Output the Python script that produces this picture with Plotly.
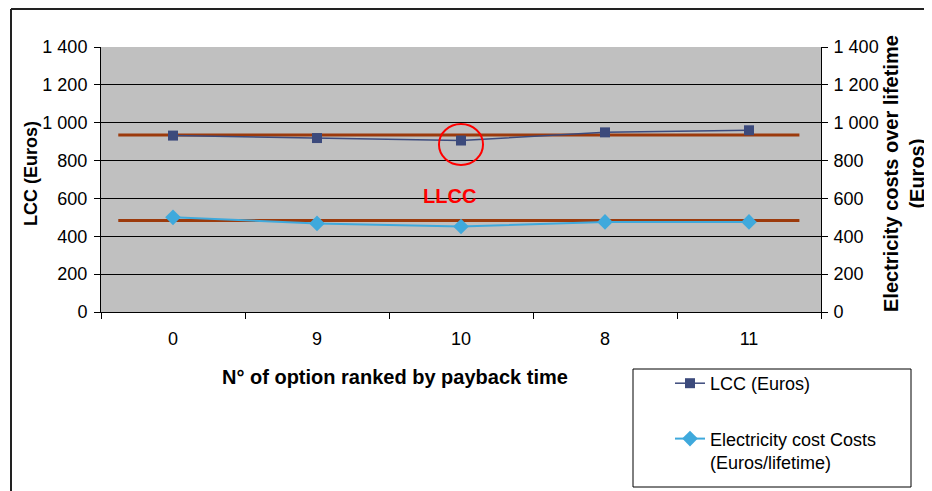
# -*- coding: utf-8 -*-

import plotly.graph_objs as go

########################## DATA ###############################################
options = ["0", "9", "10", "8", "11"]
lcc_euros = [932, 919, 906, 949, 960]
elec_costs = [500, 468, 452, 476, 476]
lcc_level = 935
elec_level = 484
level_span = [-0.38, 4.35]
y_ticks = [0, 200, 400, 600, 800, 1000, 1200, 1400]
y_ticklabels = ["0", "200", "400", "600", "800", "1 000", "1 200", "1 400"]
llcc_option = 2

FONT = "Arial, Liberation Sans, sans-serif"
ORANGE = "#9C3A0C"
NAVY = "#3C4A7C"
SKY = "#3FA9DC"

x_idx = list(range(len(options)))

# page body has an 8px margin, so the figure is laid out 8px smaller
PW, PH = 720, 265           # plot area size in px
ML, MT = 93, 39             # margins so the plot lands at (101, 47) on screen

def px_x(x):
    # screen x pixel -> paper coordinate
    return (x - 8 - ML) / PW

def px_y(y):
    # screen y pixel -> paper coordinate
    return (MT + PH - (y - 8)) / PH

########################## TRACES #############################################
fig = go.Figure()

for lvl in [lcc_level, elec_level]:
    fig.add_trace(go.Scatter(x=level_span, y=[lvl, lvl], mode="lines",
                             line=dict(color=ORANGE, width=3),
                             showlegend=False, hoverinfo="skip"))

fig.add_trace(go.Scatter(x=x_idx, y=lcc_euros, mode="lines+markers",
                         name="LCC (Euros)", legendgroup="a",
                         line=dict(color=NAVY, width=1.5),
                         marker=dict(symbol="square", size=10, color=NAVY)))

fig.add_trace(go.Scatter(x=x_idx, y=elec_costs, mode="lines+markers",
                         name="Electricity cost Costs<br>(Euros/lifetime)",
                         legendgroup="b", yaxis="y2",
                         line=dict(color=SKY, width=2),
                         marker=dict(symbol="diamond", size=12, color=SKY)))

########################## LAYOUT #############################################
axis_common = dict(range=[0, 1400], tickvals=y_ticks, ticktext=y_ticklabels,
                   ticks="outside", ticklen=6, tickcolor="black",
                   showline=True, linecolor="black", linewidth=1,
                   tickfont=dict(family=FONT, size=18, color="black"),
                   fixedrange=True)

fig.update_layout(
    width=924, height=483,
    margin=dict(l=ML, r=924 - ML - PW, t=MT, b=483 - MT - PH, autoexpand=False),
    paper_bgcolor="white",
    plot_bgcolor="#C0C0C0",
    font=dict(family=FONT, color="black"),
    xaxis=dict(range=[-0.5, 4.5], tickvals=x_idx, ticktext=options,
               ticks="", showgrid=False, zeroline=False,
               showline=True, linecolor="black", linewidth=1,
               ticklabelstandoff=10,
               tickfont=dict(family=FONT, size=18, color="black"),
               minor=dict(tickmode="array",
                          tickvals=[-0.5, 0.5, 1.5, 2.5, 3.5, 4.5],
                          ticks="outside", ticklen=6, tickcolor="black",
                          showgrid=False)),
    yaxis=dict(showgrid=True, gridcolor="black", gridwidth=1, zeroline=False,
               ticklabelstandoff=3, **axis_common),
    yaxis2=dict(overlaying="y", side="right", showgrid=False, zeroline=False,
                ticklabelstandoff=2, **axis_common),
    legend=dict(x=px_x(670), y=px_y(365), xanchor="left", yanchor="top",
                bgcolor="rgba(0,0,0,0)", tracegroupgap=29, valign="top",
                font=dict(family=FONT, size=18, color="black")),
    showlegend=True,
)

# llcc marker circle and label
fig.add_shape(type="circle", xref="x", yref="y",
              x0=llcc_option - 0.153, x1=llcc_option + 0.153, y0=777, y1=993,
              line=dict(color="red", width=2))
fig.add_annotation(x=1.92, y=613, xref="x", yref="y", text="<b>LLCC</b>",
                   showarrow=False, font=dict(family=FONT, size=20, color="red"))

# axis titles
fig.add_annotation(x=px_x(395), y=px_y(377), xref="paper", yref="paper",
                   xanchor="center", yanchor="middle",
                   text="<b>N° of option ranked by payback time</b>",
                   showarrow=False, font=dict(family=FONT, size=20))
fig.add_annotation(x=px_x(31), y=px_y(174), xref="paper", yref="paper",
                   xanchor="center", yanchor="middle",
                   text="<b>LCC (Euros)</b>", textangle=-90,
                   showarrow=False, font=dict(family=FONT, size=18))
fig.add_annotation(x=px_x(904), y=px_y(174), xref="paper", yref="paper",
                   xanchor="center", yanchor="middle",
                   text="<b>Electricity costs over lifetime<br>(Euros)</b>",
                   textangle=-90, showarrow=False,
                   font=dict(family=FONT, size=20))

# legend frame and outer chart border
fig.add_shape(type="rect", xref="paper", yref="paper",
              x0=px_x(633), x1=px_x(911), y0=px_y(487), y1=px_y(369),
              line=dict(color="black", width=1), fillcolor="white", layer="below")
fig.add_shape(type="line", xref="paper", yref="paper",
              x0=px_x(11), x1=px_x(11), y0=px_y(9), y1=px_y(500),
              line=dict(color="#222", width=2))
fig.add_shape(type="line", xref="paper", yref="paper",
              x0=px_x(11), x1=px_x(940), y0=px_y(9), y1=px_y(9),
              line=dict(color="#222", width=2))

fig.write_html("out.html")
